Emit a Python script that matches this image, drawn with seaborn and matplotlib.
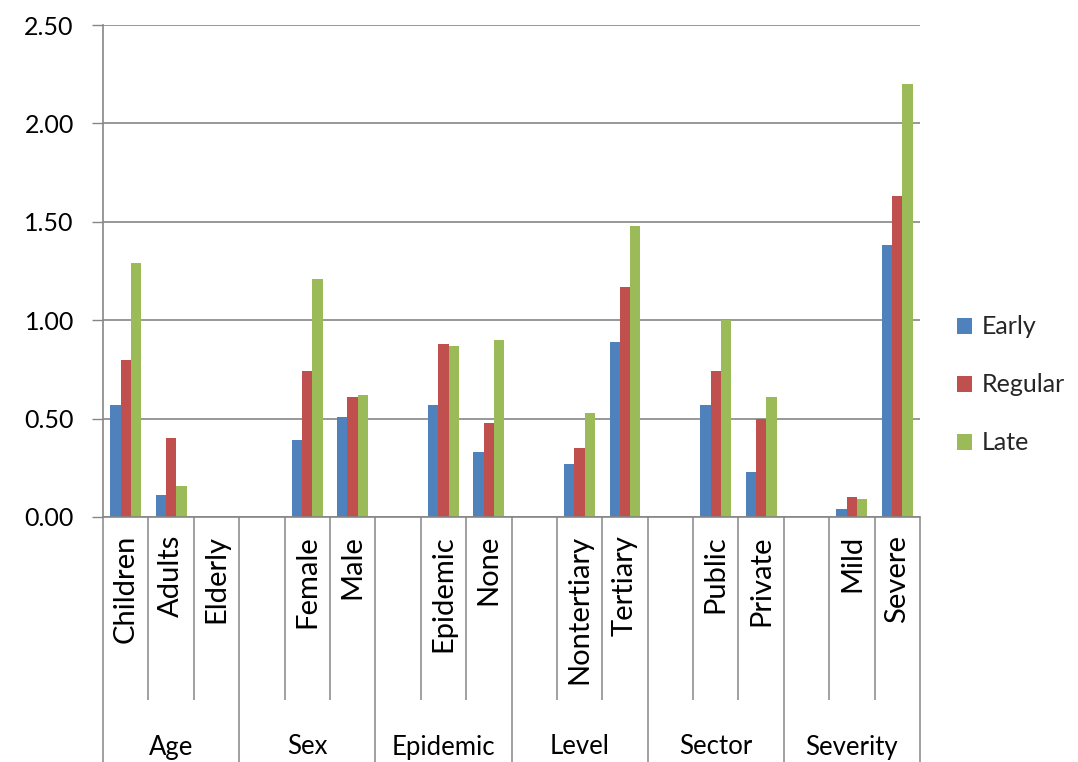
import numpy as np
import pandas as pd
import matplotlib
matplotlib.use("Agg")
import matplotlib.pyplot as plt
from matplotlib.ticker import FormatStrFormatter
import seaborn as sns

# Two-level category axis: each group owns three slots (blank slot = spacer)
groups = ["Age", "Sex", "Epidemic", "Level", "Sector", "Severity"]
categories = ["Children", "Adults", "Elderly",
              "", "Female", "Male",
              "", "Epidemic", "None",
              "", "Nontertiary", "Tertiary",
              "", "Public", "Private",
              "", "Mild", "Severe"]

nan = np.nan
early = [0.57, 0.11, 0.00, nan, 0.39, 0.51, nan, 0.57, 0.33,
         nan, 0.27, 0.89, nan, 0.57, 0.23, nan, 0.04, 1.38]
regular = [0.80, 0.40, 0.00, nan, 0.74, 0.61, nan, 0.88, 0.48,
           nan, 0.35, 1.17, nan, 0.74, 0.50, nan, 0.10, 1.63]
late = [1.29, 0.16, 0.00, nan, 1.21, 0.62, nan, 0.87, 0.90,
        nan, 0.53, 1.48, nan, 1.00, 0.61, nan, 0.09, 2.20]

series_names = ["Early", "Regular", "Late"]
series_colors = ["#4F81BD", "#C0504D", "#9BBB59"]

n_slots = len(categories)
per_group = n_slots // len(groups)
slot_keys = [str(i) for i in range(n_slots)]

records = []
for name, vals in zip(series_names, [early, regular, late]):
    for key, v in zip(slot_keys, vals):
        if not np.isnan(v):
            records.append({"slot": key, "series": name, "value": v})
df = pd.DataFrame(records)

sns.set_theme(style="white")
plt.rcParams["font.family"] = ["Lato", "DejaVu Sans"]
FS = 18
GRAY = "#868686"

fig = plt.figure(figsize=(10.78, 7.62), dpi=100)
ax = fig.add_axes([103 / 1078, 245 / 762, 817 / 1078, 492 / 762])

sns.barplot(data=df, x="slot", y="value", hue="series", order=slot_keys,
            hue_order=series_names, palette=series_colors, errorbar=None,
            width=0.68, gap=0, saturation=1, linewidth=0, ax=ax)

ax.set_xlim(-0.5, n_slots - 0.5)
ax.set_ylim(0, 2.5)
ax.set_xlabel("")
ax.set_ylabel("")

# y axis
ax.set_yticks(np.arange(0, 2.51, 0.5))
ax.yaxis.set_major_formatter(FormatStrFormatter("%.2f"))
ax.tick_params(axis="y", left=True, length=8, width=1, color=GRAY, pad=13,
               labelsize=FS, labelcolor="black")
ax.yaxis.grid(True, color=GRAY, linewidth=1.2)
ax.set_axisbelow(True)

for side in ["top", "right"]:
    ax.spines[side].set_visible(False)
for side in ["left", "bottom"]:
    ax.spines[side].set_color(GRAY)
    ax.spines[side].set_linewidth(1.2)

# x axis: category labels
ax.set_xticks(range(n_slots))
ax.set_xticklabels(categories, rotation=90, va="top", ha="center")
ax.tick_params(axis="x", bottom=False, length=0, pad=13, labelsize=21,
               labelcolor="black")

xform = ax.get_xaxis_transform()
cat_bottom = (517 - 700) / 492
grp_bottom = (517 - 770) / 492
cat_bounds = [i + 0.5 for i in range(n_slots - 1) if (i + 1) % per_group != 0]
grp_bounds = [g * per_group - 0.5 for g in range(len(groups) + 1)]
ax.vlines(cat_bounds, cat_bottom, 0, transform=xform, colors=GRAY,
          linewidth=1.1, clip_on=False)
ax.vlines(grp_bounds, grp_bottom, 0, transform=xform, colors=GRAY,
          linewidth=1.1, clip_on=False)

for g, name in enumerate(groups):
    ax.text(g * per_group + (per_group - 1) / 2, (517 - 747) / 492, name,
            transform=xform, ha="center", va="center", fontsize=FS + 0.5,
            color="black")

# legend to the right of the plot
sns.move_legend(ax, "center left", bbox_to_anchor=((957 - 103) / 817, (517 - 385) / 492),
                title=None, frameon=False, fontsize=FS, borderpad=0,
                borderaxespad=0, handlelength=0.6, handleheight=0.6,
                handletextpad=0.4, labelspacing=1.4)

fig.savefig("out.png", dpi=100)
